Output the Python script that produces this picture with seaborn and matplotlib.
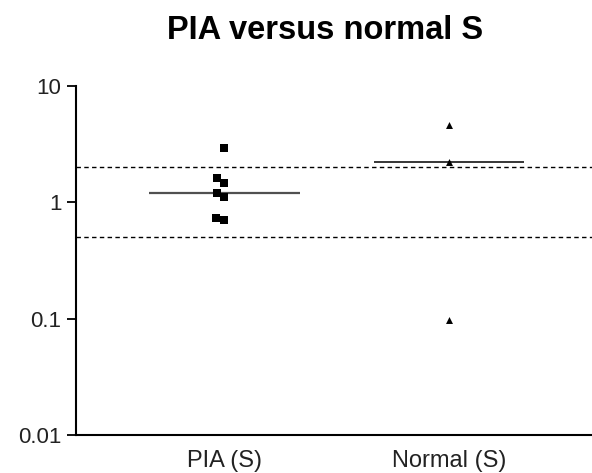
import numpy as np
import pandas as pd
import matplotlib
matplotlib.use("Agg")
import matplotlib.pyplot as plt
import seaborn as sns

categories = ["PIA (S)", "Normal (S)"]
pia_values = [2.95, 1.63, 1.48, 1.21, 1.11, 0.74, 0.70]
normal_values = [4.6, 2.2, 0.098]
ref_lines = [2.0, 0.5]
y_ticks = [0.01, 0.1, 1, 10]
y_tick_labels = ["0.01", "0.1", "1", "10"]
title = "PIA versus normal S"

sns.set_style("ticks")
plt.rcParams["font.family"] = ["Liberation Sans", "DejaVu Sans"]

df = pd.DataFrame({
    "group": [categories[0]] * len(pia_values) + [categories[1]] * len(normal_values),
    "value": pia_values + normal_values,
})

fig = plt.figure(figsize=(5.92, 4.73), dpi=100)
ax = fig.add_axes([76 / 592, 1 - 435 / 473, 1 - 76 / 592, (435 - 86) / 473])
ax.set_yscale("log")
ax.set_ylim(0.01, 10)

sns.swarmplot(data=df[df.group == categories[0]], x="group", y="value",
              order=categories, marker="s", color="black", size=6.2,
              linewidth=0, ax=ax)
sns.swarmplot(data=df[df.group == categories[1]], x="group", y="value",
              order=categories, marker="^", color="black", size=5,
              linewidth=0, ax=ax)

for i, vals in enumerate([pia_values, normal_values]):
    med = np.median(vals)
    ax.hlines(med, i - 0.335, i + 0.335,
              color="#505050" if i == 0 else "black",
              lw=1.6 if i == 0 else 1.1, zorder=1)

for r in ref_lines:
    ax.axhline(r, color="black", lw=1.0, linestyle=(0, (3.2, 2.4)), zorder=0)

ax.set_xlim(-0.661, 1.637)
ax.set_yticks(y_ticks)
ax.set_yticklabels(y_tick_labels)
ax.yaxis.set_minor_locator(matplotlib.ticker.NullLocator())
ax.set_xlabel("")
ax.set_ylabel("")

for s in ["top", "right"]:
    ax.spines[s].set_visible(False)
for s in ["left", "bottom"]:
    ax.spines[s].set_linewidth(1.5)
    ax.spines[s].set_color("black")

ax.tick_params(axis="y", direction="out", length=6.5, width=1.3,
               labelsize=16, pad=4, colors="black", labelcolor="#222222")
ax.tick_params(axis="x", length=0, labelsize=17, pad=11, labelcolor="#222222")

fig.text(325 / 592, 1 - 39 / 473, title, ha="center", va="baseline",
         fontsize=23.5, fontweight="bold", color="black")

fig.savefig("out.png", dpi=100)
